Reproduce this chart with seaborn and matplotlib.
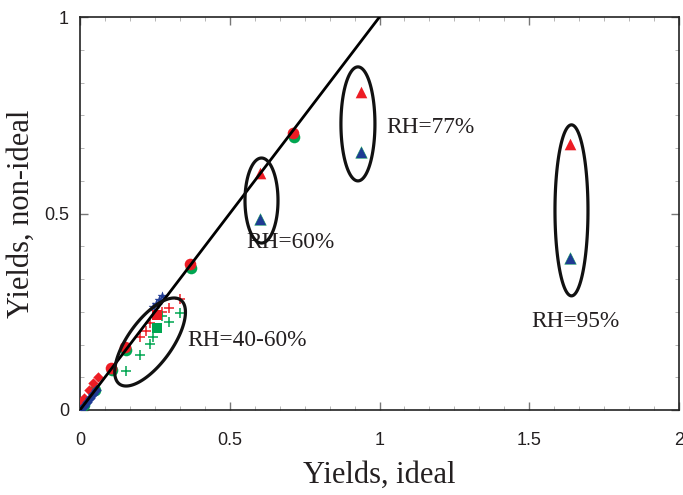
import numpy as np
import pandas as pd
import matplotlib
matplotlib.use("Agg")
import matplotlib.pyplot as plt
from matplotlib.ticker import MultipleLocator
import seaborn as sns

# ideal vs non-ideal yields
circ_red_x = [0.010, 0.104, 0.150, 0.367, 0.711]
circ_red_y = [0.018, 0.108, 0.160, 0.372, 0.705]
circ_green_x = [0.013, 0.050, 0.108, 0.153, 0.370, 0.713]
circ_green_y = [0.012, 0.050, 0.102, 0.153, 0.362, 0.695]

dia_red_x = [0.005, 0.015, 0.030, 0.045, 0.060]
dia_red_y = [0.012, 0.030, 0.050, 0.068, 0.085]
dia_blue_x = [0.005, 0.015, 0.025, 0.035, 0.045, 0.055]
dia_blue_y = [0.002, 0.010, 0.020, 0.030, 0.040, 0.050]

cross_red_x = [0.200, 0.220, 0.234, 0.273, 0.298, 0.334]
cross_red_y = [0.186, 0.200, 0.221, 0.249, 0.259, 0.282]
cross_green_x = [0.154, 0.200, 0.234, 0.244, 0.273, 0.298, 0.334]
cross_green_y = [0.099, 0.140, 0.168, 0.186, 0.239, 0.224, 0.246]

star_blue_x = [0.245, 0.255, 0.265, 0.273]
star_blue_y = [0.262, 0.270, 0.280, 0.290]

sq_red_x, sq_red_y = [0.256], [0.242]
sq_green_x, sq_green_y = [0.256], [0.209]

tri_x = [0.601, 0.938, 1.636]
tri_red_y = [0.603, 0.809, 0.677]
tri_blue_y = [0.486, 0.656, 0.387]

# ellipses: centre (data), semi-axes (px), angle (deg), label, label pos
ell_cx = [0.234, 0.606, 0.928, 1.641]
ell_cy = [0.173, 0.533, 0.728, 0.508]
ell_a = [52, 16.5, 17, 16.5]
ell_b = [22, 42.5, 57, 85.5]
ell_ang = [54, 0, 0, 0]
labels = ["RH=40-60%", "RH=60%", "RH=77%", "RH=95%"]
lab_x = [0.357, 0.554, 1.022, 1.506]
lab_y = [0.176, 0.425, 0.718, 0.224]

RED = "#ed1c24"
GREEN = "#00a651"
BLUE = "#1f3a93"

sns.set_style("ticks")
plt.rcParams["font.family"] = ["Liberation Sans", "DejaVu Sans"]

fig = plt.figure(figsize=(6.83, 4.95), dpi=100)
ax = fig.add_axes([80 / 683, 1 - 410 / 495, 599 / 683, 393 / 495])

def pts(x, y, color, marker, s, lw=0, ec=None):
    df = pd.DataFrame({"x": x, "y": y})
    sns.scatterplot(data=df, x="x", y="y", ax=ax, color=color, marker=marker,
                    s=s, linewidth=lw, edgecolor=ec if ec else color, zorder=3)

pts(circ_green_x, circ_green_y, GREEN, "o", 70)
pts(circ_red_x, circ_red_y, RED, "o", 70)
pts(dia_red_x, dia_red_y, RED, "D", 28)
pts(dia_blue_x, dia_blue_y, BLUE, "D", 28)
pts(cross_red_x, cross_red_y, RED, "+", 60, lw=1.1)
pts(cross_green_x, cross_green_y, GREEN, "+", 60, lw=1.1)
pts(star_blue_x, star_blue_y, BLUE, "*", 45, lw=0.3)
pts(sq_red_x, sq_red_y, RED, "s", 60)
pts(sq_green_x, sq_green_y, GREEN, "s", 60)
pts(tri_x, tri_red_y, RED, "^", 70)
pts(tri_x, tri_blue_y, BLUE, "^", 70, lw=0.3, ec=GREEN)

# 1:1 line
sns.lineplot(x=[0, 1], y=[0, 1], ax=ax, color="black", linewidth=2, zorder=4)

# ellipses, defined in pixel units then mapped to data units
sx, sy = 599 / 2.0, 393 / 1.0
t = np.linspace(0, 2 * np.pi, 200)
for cx, cy, a, b, ang in zip(ell_cx, ell_cy, ell_a, ell_b, ell_ang):
    th = np.deg2rad(ang)
    px = a * np.cos(t) * np.cos(th) - b * np.sin(t) * np.sin(th)
    py = a * np.cos(t) * np.sin(th) + b * np.sin(t) * np.cos(th)
    ax.fill(cx + px / sx, cy + py / sy, facecolor="none", edgecolor="#111111",
            linewidth=2.3, zorder=5)

for lx, ly, txt in zip(lab_x, lab_y, labels):
    ax.text(lx, ly, txt, family="Liberation Serif", fontsize=16.8,
            color="#231f20", va="center", ha="left")

ax.set_xlim(0, 2)
ax.set_ylim(0, 1)
ax.xaxis.set_major_locator(MultipleLocator(0.5))
ax.yaxis.set_major_locator(MultipleLocator(0.5))
ax.xaxis.set_minor_locator(MultipleLocator(0.5 / 6))
ax.yaxis.set_minor_locator(MultipleLocator(0.5 / 6))
ax.xaxis.set_major_formatter(plt.FuncFormatter(lambda v, p: f"{v:g}"))
ax.yaxis.set_major_formatter(plt.FuncFormatter(lambda v, p: f"{v:g}"))
ax.tick_params(which="major", direction="in", length=6, width=1, color="#777777",
               labelsize=13, labelcolor="#231f20", top=True, right=True, pad=8)
ax.tick_params(axis="x", which="major", pad=16)
ax.tick_params(which="minor", direction="in", length=3, width=0.6, color="#aaaaaa",
               top=True, right=True)
for sp in ax.spines.values():
    sp.set_linewidth(1.2)
    sp.set_color("#222222")

ax.set_xlabel("Yields, ideal", family="Liberation Serif", fontsize=22,
              color="#231f20", labelpad=8)
ax.set_ylabel("Yields, non-ideal", family="Liberation Serif", fontsize=22,
              color="#231f20", labelpad=6)

fig.savefig("out.png", dpi=100)
